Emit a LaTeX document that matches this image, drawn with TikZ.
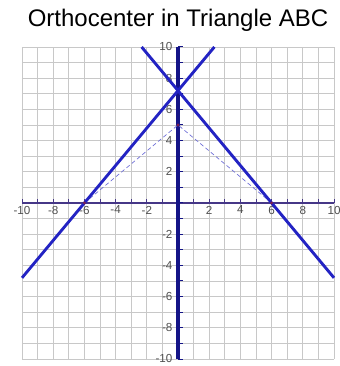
\documentclass[tikz,border=0pt]{standalone}
\usepackage{fontspec}
\setmainfont{Liberation Sans}
\usepackage{tikz}
\usetikzlibrary{positioning,calc}
\definecolor{gridgray}{RGB}{200,200,200}
\definecolor{altblue}{RGB}{35,35,195}
\definecolor{yaxisnavy}{RGB}{20,20,135}
\definecolor{xaxisnavy}{RGB}{70,55,135}
\definecolor{sideblue}{RGB}{110,110,215}
\definecolor{lblgray}{RGB}{80,80,80}
\definecolor{vtxred}{RGB}{120,30,80}

\begin{document}
\begin{tikzpicture}[x=0.4cm,y=0.4cm,
                  alt/.style={altblue,line width=2.1pt},
                  side/.style={sideblue,densely dashed,line width=0.5pt},
                  lbl/.style={lblgray,font=\fontsize{8.5}{9}\selectfont,inner sep=0.5pt},
                  vtx/.style={circle,fill=vtxred,inner sep=0pt,minimum size=2.4pt}
                ]
                \useasboundingbox (-11.41,-10.45) rectangle (10.38,13.01);
                \fill[white] (-11.41,-10.45) rectangle (10.38,13.01);

                \node (title) at (0,11.73) {\fontsize{17.5}{20}\selectfont Orthocenter in Triangle ABC};

                \draw[gridgray,line width=0.5pt,step=0.4cm] (-10,-10) grid (10,10);

                \draw[xaxisnavy,line width=1.3pt] (-10,0) -- (10,0);
                \foreach \x in {-10,...,10}
                  \draw[xaxisnavy,line width=0.7pt] (\x,0) -- (\x,0.25);
                \draw[yaxisnavy,line width=2.2pt] (0,-10) -- (0,10);
                \foreach \y in {-10,...,10}
                  \draw[yaxisnavy,line width=0.7pt] (0,\y) -- (0.3,\y);

                \foreach \x in {-10,-8,-6,-4,-2,2,4,6,8,10}
                  \node[lbl] (xl\x) at (\x,-0.45) {\x};
                \foreach \y in {-10,-8,-6,-4,-2,2,4,6,8,10}
                  \node[lbl,anchor=east] (yl\y) at (-0.3,\y) {\y};

                \coordinate (A) at (-6,0);
                \coordinate (B) at (6,0);
                \coordinate (C) at (0,5);
                \coordinate (H) at (0,7.2);
                \coordinate (altAlow) at (-10,-4.8);
                \coordinate (altAtop) at (2.333,10);
                \coordinate (altBlow) at (10,-4.8);
                \coordinate (altBtop) at (-2.333,10);

                \draw[side] (A) -- (C) -- (B);

                \draw[alt] (altAlow) -- (H) -- (altAtop);
                \draw[alt] (altBlow) -- (H) -- (altBtop);

                \node[vtx] (vA) at (A) {};
                \node[vtx] (vB) at (B) {};
                \node[vtx] (vC) at (C) {};
                \end{tikzpicture}
\end{document}
